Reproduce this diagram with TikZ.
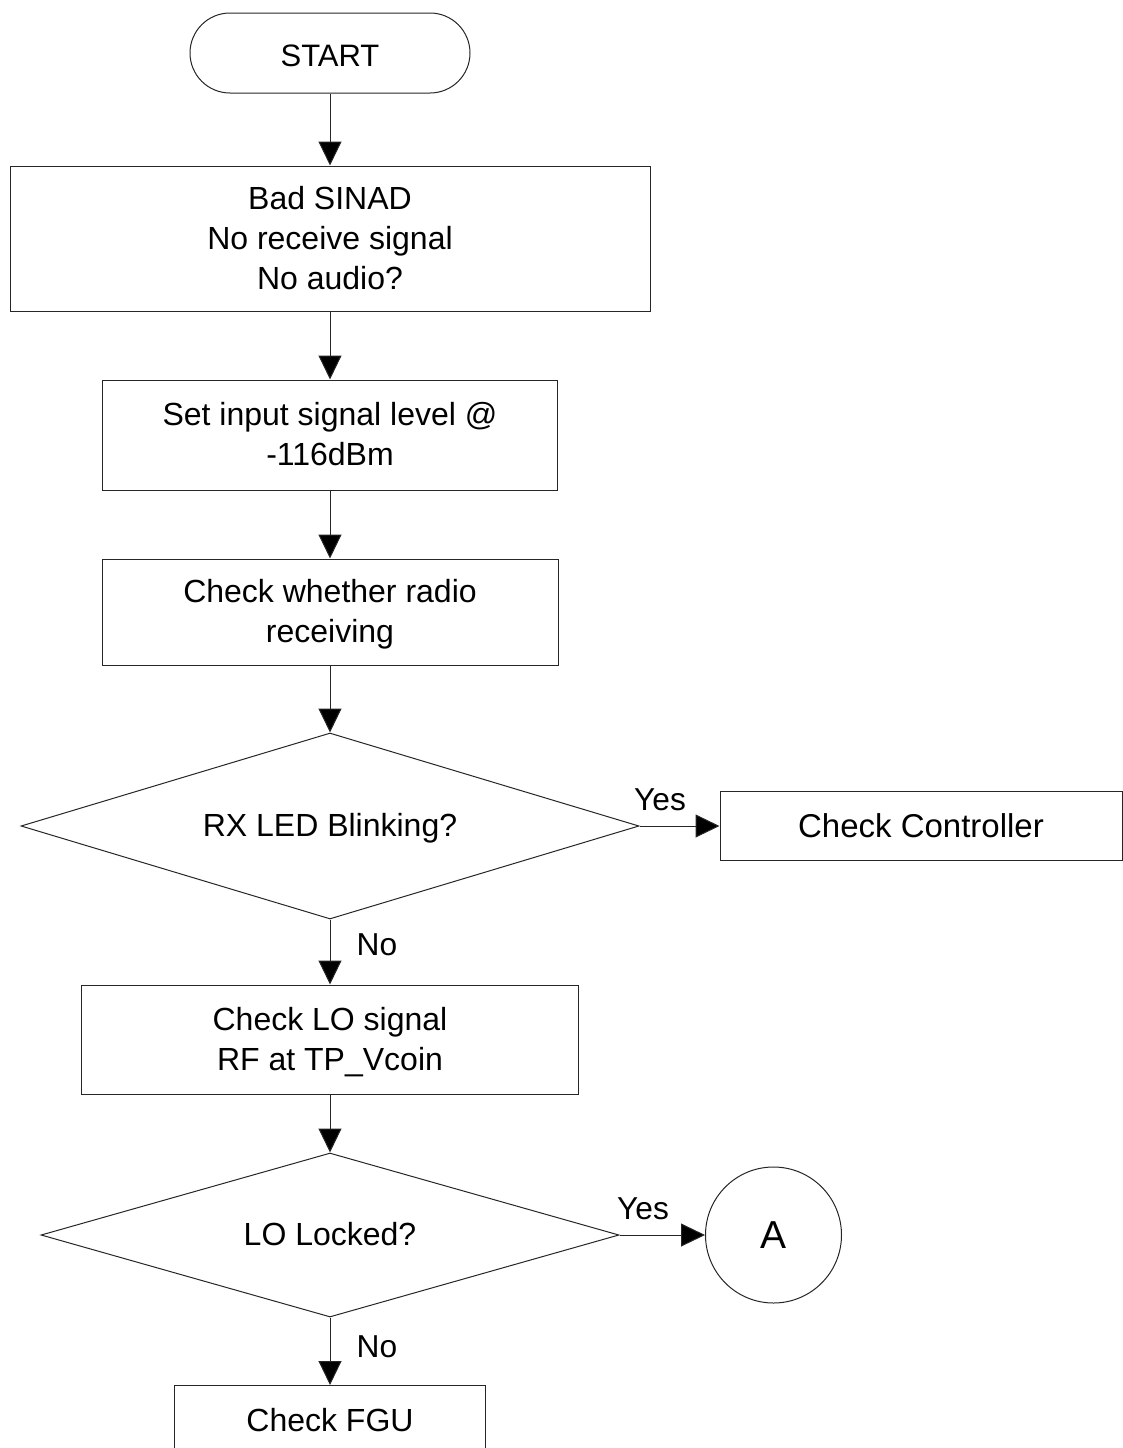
\documentclass[tikz,border=0pt]{standalone}
\usepackage{fontspec}
\setmainfont{Liberation Sans}
\usetikzlibrary{shapes.geometric,arrows.meta}

% strut that places a line a little below its capital centre: argument = cap height
\newcommand\capline[1]{\rule[-6pt]{0pt}{\dimexpr 11pt+#1\relax}}
\newcommand\pl{\capline{22.9pt}}  % 32pt face

\begin{document}
\begin{tikzpicture}[x=1pt,y=-1pt,
  line width=1pt,
  plaintext/.style={font=\fontsize{32}{40}\selectfont},
  flowbox/.style={draw=black!85, rectangle, inner sep=0pt, align=center, plaintext},
  decision/.style={draw=black!85, diamond, inner sep=0pt, aspect=3.3, plaintext},
  terminal/.style={draw=black!85, rectangle, rounded corners=40pt, inner sep=0pt,
    font=\fontsize{31}{38}\selectfont},
  connector/.style={draw=black!85, circle, inner sep=0pt,
    font=\fontsize{39}{46}\selectfont},
  arr/.style={draw=black!85, -{Triangle[length=24pt,width=23pt,fill=black]}},
  tag/.style={inner sep=0pt, font=\fontsize{31.7}{38}\selectfont}]
\useasboundingbox (0,0) rectangle (1123,1448);
\clip (0,0) rectangle (1123,1448);

% process chain
\node[terminal, minimum width=280pt, minimum height=80pt] (start) at (330,53)
  {\rule[-6pt]{0pt}{38pt}START};
\node[flowbox, minimum width=640pt, minimum height=145pt] (sinad) at (330,238.5)
  {\pl Bad SINAD\\\pl No receive signal\\\pl No audio?};
\node[flowbox, minimum width=455pt, minimum height=110pt] (level) at (330,435)
  {\pl Set input signal level @\\\pl -116dBm};
\node[flowbox, minimum width=456pt, minimum height=106pt] (recv) at (330,612)
  {\pl Check whether radio\\\pl receiving};
\node[decision, minimum width=618pt, minimum height=186pt] (rxled) at (330,826)
  {\pl RX LED Blinking?};
\node[flowbox, minimum width=402pt, minimum height=69pt,
  font=\fontsize{33}{40}\selectfont] (ctrl) at (921,826)
  {\capline{23.6pt}Check Controller};
\node[flowbox, minimum width=497pt, minimum height=109pt] (lo) at (330,1039.5)
  {\pl Check LO signal\\\pl RF at TP\_Vcoin};
\node[decision, minimum width=578pt, minimum height=164pt] (lock) at (330,1235)
  {\pl LO Locked?};
\node[connector, minimum size=136pt] (conA) at (773.5,1235) {\capline{27.9pt}A};
\node[flowbox, minimum width=311pt, minimum height=70pt] (fgu) at (330,1420.5)
  {\pl Check FGU};

% connectors
\draw[arr] (start.south) -- (sinad.north);
\draw[arr] (sinad.south) -- (level.north);
\draw[arr] (level.south) -- (recv.north);
\draw[arr] (recv.south) -- (rxled.north);
\draw[arr] (rxled.east) -- (ctrl.west);
\draw[arr] (rxled.south) -- (lo.north);
\draw[arr] (lo.south) -- (lock.north);
\draw[arr] (lock.east) -- (conA.west);
\draw[arr] (lock.south) -- (fgu.north);

% branch labels
\node[tag] (yes1) at (660,800) {\capline{22.7pt}Yes};
\node[tag] (no1) at (377,945) {\capline{22.7pt}No};
\node[tag] (yes2) at (643,1208.5) {\capline{22.7pt}Yes};
\node[tag] (no2) at (377,1347) {\capline{22.7pt}No};
\end{tikzpicture}
\end{document}
